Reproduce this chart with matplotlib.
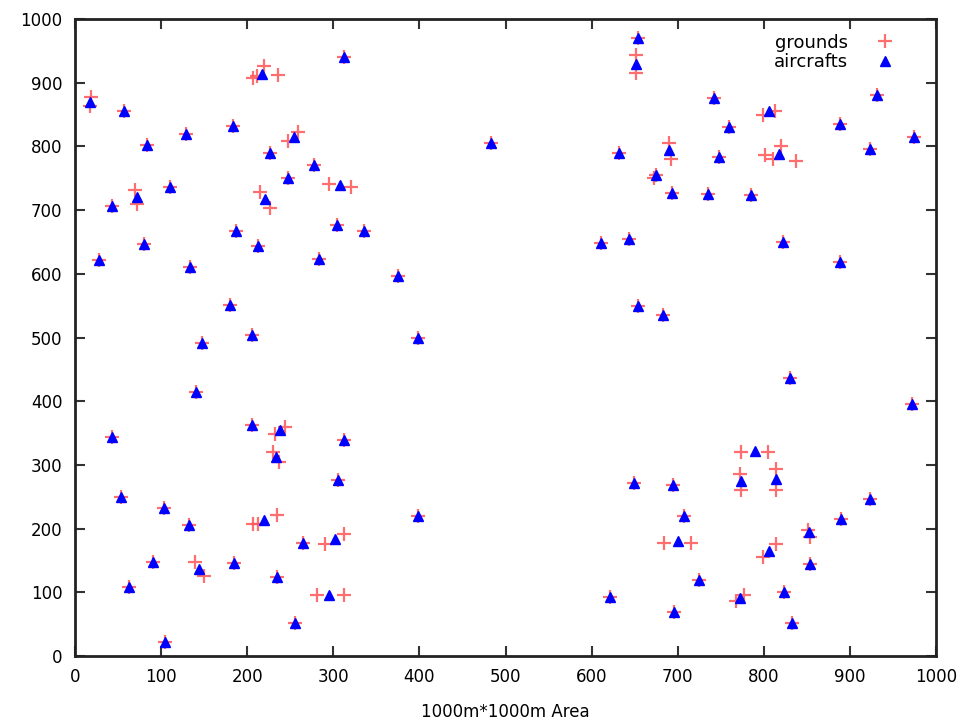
import matplotlib
matplotlib.use("Agg")
import matplotlib.pyplot as plt

# Aircraft positions (blue triangles)
air_x = [17, 57, 84, 129, 183, 217, 227, 254, 278, 247, 110, 43, 72, 221, 312, 308,
         187, 304, 336, 80, 213, 28, 283, 134, 375, 180, 148, 206, 398, 141, 483,
         206, 238, 43, 233, 53, 103, 132, 219, 265, 91, 144, 185, 63, 235, 256, 104,
         313, 305, 398, 302, 295,
         654, 652, 742, 806, 760, 632, 690, 748, 818, 675, 693, 735, 785, 932, 888,
         975, 923, 611, 643, 822, 888, 654, 683, 830, 972, 790, 774, 814, 649, 695,
         707, 700, 806, 852, 725, 854, 824, 621, 772, 696, 833, 923, 890]
air_y = [870, 856, 803, 820, 832, 914, 789, 815, 771, 751, 736, 707, 720, 717, 941, 739,
         667, 677, 667, 647, 643, 621, 623, 611, 597, 551, 491, 504, 499, 415, 806,
         362, 355, 344, 312, 249, 232, 206, 214, 177, 148, 136, 146, 109, 124, 51, 22,
         339, 277, 220, 184, 96,
         970, 929, 876, 855, 830, 789, 794, 783, 788, 756, 727, 725, 724, 881, 835,
         815, 796, 649, 654, 650, 619, 549, 536, 436, 396, 322, 274, 278, 271, 268,
         220, 180, 165, 194, 119, 144, 100, 92, 91, 69, 52, 246, 215]

# Ground positions (red plus)
gnd_x = [19, 17, 57, 84, 129, 183, 219, 207, 211, 236, 227, 259, 247, 278, 247, 110,
         43, 70, 72, 215, 226, 312, 295, 321, 187, 304, 336, 80, 213, 28, 283, 134,
         375, 180, 148, 206, 398, 141, 483, 206, 244, 232, 43, 230, 237, 53, 103, 132,
         207, 212, 235, 265, 91, 139, 150, 185, 63, 235, 256, 104, 313, 305, 398, 290,
         312, 281, 312,
         654, 652, 652, 742, 799, 813, 760, 632, 690, 692, 748, 801, 811, 820, 837,
         672, 675, 693, 735, 785, 932, 888, 975, 923, 611, 643, 822, 888, 654, 683,
         830, 972, 774, 805, 772, 774, 814, 814, 649, 695, 707, 684, 715, 799, 814,
         851, 854, 725, 854, 824, 621, 768, 777, 696, 833, 923, 890]
gnd_y = [877, 864, 856, 803, 820, 832, 926, 908, 910, 913, 789, 823, 808, 771, 751, 736,
         707, 731, 709, 729, 703, 941, 741, 736, 667, 677, 667, 647, 643, 621, 623, 611,
         597, 551, 491, 504, 499, 415, 806, 362, 360, 348, 344, 320, 305, 249, 232, 206,
         207, 207, 222, 177, 148, 148, 126, 146, 109, 124, 51, 22, 339, 277, 220, 176,
         191, 95, 95,
         970, 943, 915, 876, 850, 856, 830, 789, 805, 780, 783, 787, 781, 800, 778,
         751, 756, 727, 725, 724, 881, 835, 815, 796, 649, 654, 650, 619, 549, 536,
         436, 396, 321, 321, 286, 261, 293, 261, 271, 268, 220, 178, 178, 155, 176,
         198, 187, 119, 144, 100, 92, 87, 96, 69, 52, 246, 215]

ticks = list(range(0, 1001, 100))

plt.rcParams['font.family'] = ['DejaVu Sans']
fig = plt.figure(figsize=(9.74, 7.27), dpi=100)
ax = fig.add_axes([0.077, 0.0977, 0.884, 0.876])

ax.plot(gnd_x, gnd_y, linestyle='none', marker='+', markersize=10, mew=1.6,
        color='#ff5555', alpha=0.85, label='grounds')
ax.plot(air_x, air_y, linestyle='none', marker='^', markersize=7,
        color='#0000ff', label='aircrafts')

ax.set_xlim(0, 1000)
ax.set_ylim(0, 1000)
ax.set_xticks(ticks)
ax.set_yticks(ticks)
ax.tick_params(direction='in', length=7, width=1.5, top=True, right=True,
               labelsize=12, colors='#333333', labelcolor='black', pad=9)
for s in ax.spines.values():
    s.set_linewidth(2)
    s.set_color('#222222')
ax.set_xlabel('1000m*1000m Area', fontsize=12, labelpad=12)

ax.legend(loc='upper right', frameon=False, markerfirst=False, fontsize=13,
          handletextpad=1.0, borderaxespad=0.4, labelspacing=0.1,
          bbox_to_anchor=(0.978, 1.0))

fig.savefig('out.png', dpi=100)
